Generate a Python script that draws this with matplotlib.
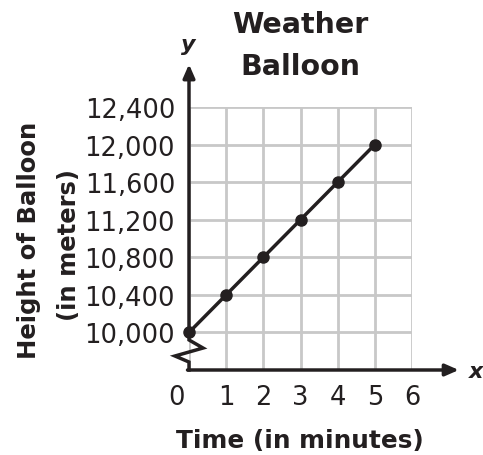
import numpy as np
import matplotlib.pyplot as plt
from matplotlib.transforms import ScaledTranslation

# dados do grafico
tempo = [0, 1, 2, 3, 4, 5]
altura = [10000, 10400, 10800, 11200, 11600, 12000]
x_ticks = [0, 1, 2, 3, 4, 5, 6]
y_ticks = [10000, 10400, 10800, 11200, 11600, 12000, 12400]
y_labels = ['10,000', '10,400', '10,800', '11,200', '11,600', '12,000', '12,400']

plt.rcParams['font.family'] = ['DejaVu Sans']
preto = '#231f20'
cinza = '#c8c8c8'

W, H = 483, 456
fig = plt.figure(figsize=(W / 100, H / 100), dpi=100)
# eixo em pixels: x de 189 a 412, y de 371 (9600) a 108 (12400)
ax = fig.add_axes([189 / W, 1 - 371 / H, (412 - 189) / W, (371 - 108) / H])
ax.set_xlim(0, 6)
ax.set_ylim(9600, 12400)

for s in ax.spines.values():
    s.set_visible(False)

ax.set_xticks(x_ticks)
ax.set_xticklabels([str(v) for v in x_ticks])
ax.set_yticks(y_ticks)
ax.set_yticklabels(y_labels)
ax.tick_params(length=0, labelsize=18.5, colors=preto)
ax.tick_params(axis='y', pad=10)
ax.tick_params(axis='x', pad=10)
ax.grid(True, color=cinza, lw=2)
ax.set_axisbelow(True)

# o "0" fica deslocado pra esquerda
lab0 = ax.get_xticklabels()[0]
lab0.set_transform(lab0.get_transform() + ScaledTranslation(-0.12, 0, fig.dpi_scale_trans))

# eixo y com quebra (zigue-zague)
zx = [0, 0, 0.377, -0.377, 0, 0]
zy = [10000, 9920, 9834, 9749, 9685, 9600]
ax.plot(zx, zy, color=preto, lw=2.5, clip_on=False, zorder=3, solid_joinstyle='miter')

seta = dict(arrowstyle='-|>,head_length=0.8,head_width=0.35', lw=2.5, color=preto,
            shrinkA=0, shrinkB=0)
ax.annotate('', xy=(0, 12855), xytext=(0, 10000), arrowprops=seta, annotation_clip=False)
ax.annotate('', xy=(7.26, 9600), xytext=(-0.04, 9600), arrowprops=seta, annotation_clip=False)

# linha e pontos
ax.plot(tempo, altura, color=preto, lw=2.5, zorder=4, clip_on=False)
ax.plot(tempo, altura, 'o', color=preto, ms=8, zorder=5, clip_on=False)

# textos
fig.text(188 / W, 1 - 45 / H, 'y', fontsize=16, fontweight='bold', style='italic',
         ha='center', va='center', color=preto)
fig.text(476 / W, 1 - 372 / H, 'x', fontsize=16, fontweight='bold', style='italic',
         ha='center', va='center', color=preto)
fig.text(300 / W, 1 - 33 / H, 'Weather', fontsize=20.5, fontweight='bold',
         ha='center', va='baseline', color=preto)
fig.text(300 / W, 1 - 75 / H, 'Balloon', fontsize=20.5, fontweight='bold',
         ha='center', va='baseline', color=preto)
fig.text(300 / W, 1 - 448 / H, 'Time (in minutes)', fontsize=17.8, fontweight='bold',
         ha='center', va='baseline', color=preto)
fig.text(36 / W, 1 - 240 / H, 'Height of Balloon', fontsize=17.5, fontweight='bold',
         rotation=90, ha='center', va='baseline', rotation_mode='anchor', color=preto)
fig.text(76 / W, 1 - 245 / H, '(in meters)', fontsize=17.5, fontweight='bold',
         rotation=90, ha='center', va='baseline', rotation_mode='anchor', color=preto)

plt.savefig('out.png', dpi=100)
